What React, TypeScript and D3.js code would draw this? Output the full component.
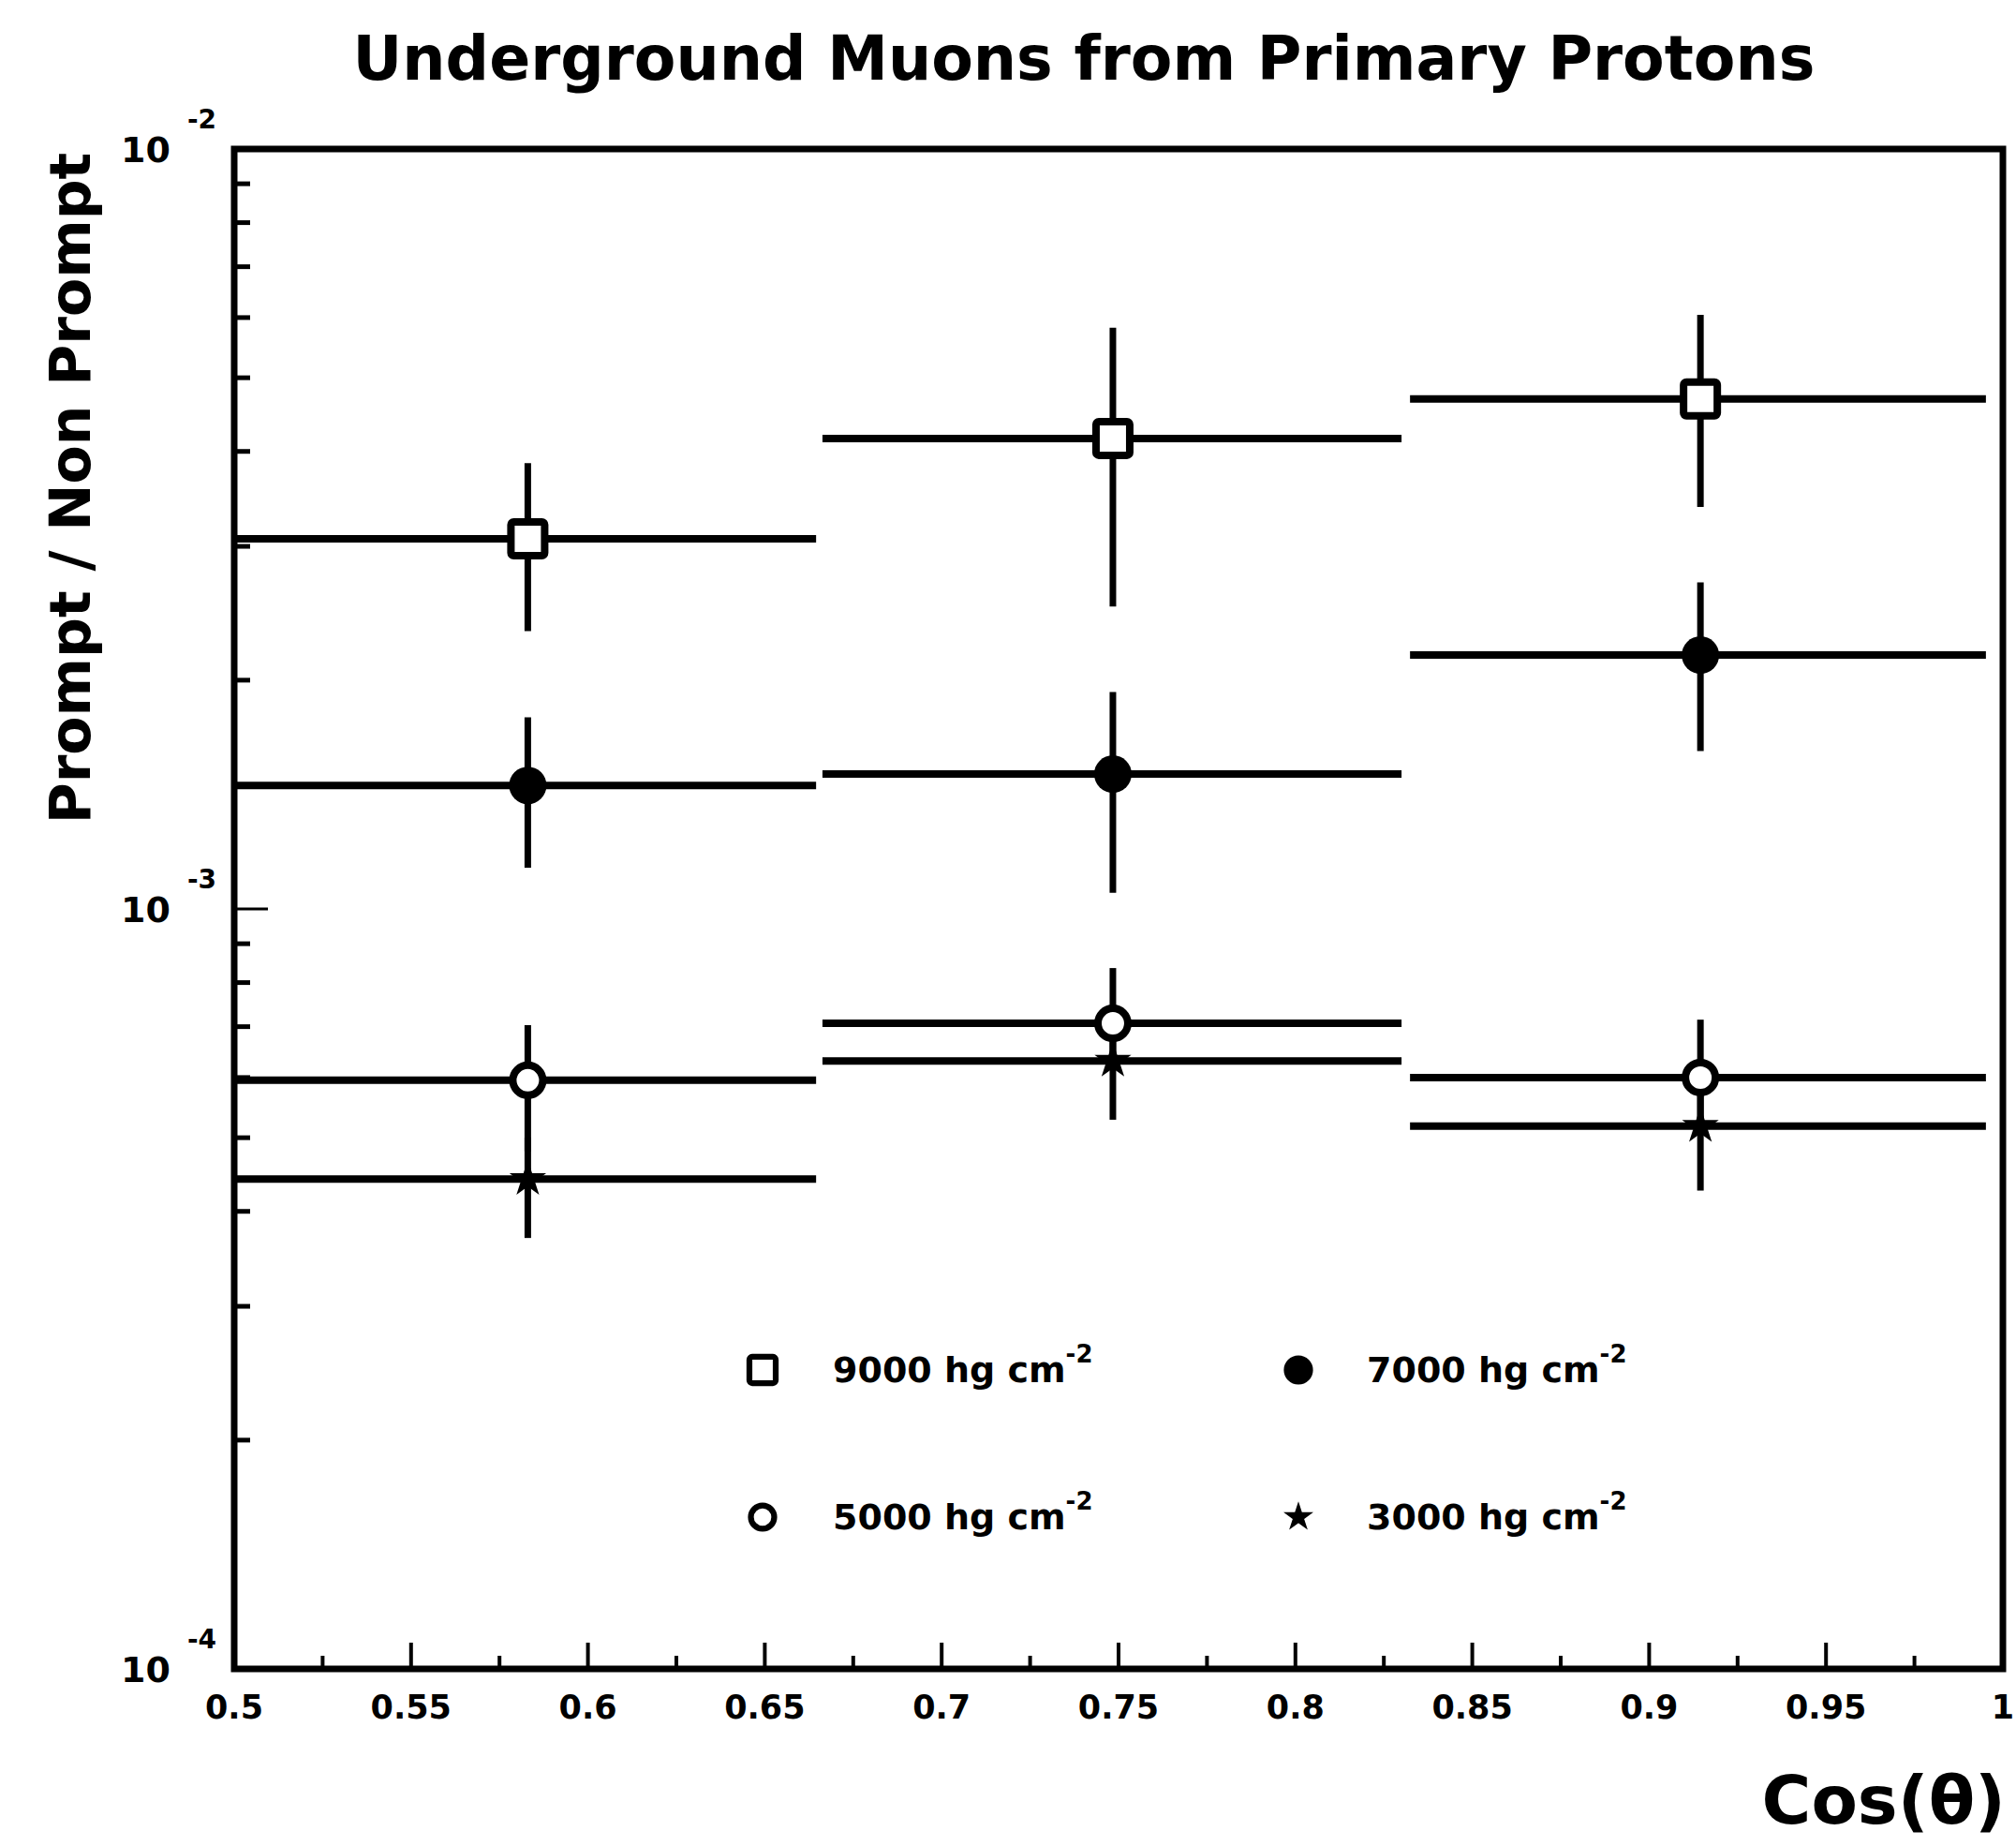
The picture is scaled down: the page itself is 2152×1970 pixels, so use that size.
import React from "react";
import * as d3 from "d3";

// Canvas
const W = 2152;
const H = 1970;
const FONT = "'DejaVu Sans', 'Liberation Sans', sans-serif";

// cos(theta) bins: horizontal extent of each bin bar and the point position
const binLow = [0.5, 0.6663, 0.8324];
const binHigh = [0.6645, 0.83, 0.9952];
const binCenters = [0.583, 0.7484, 0.9145];

// Prompt / Non-prompt ratio per depth: central value, lower and upper error limits
const ratio9000 = [3.07e-3, 4.16e-3, 4.69e-3];
const low9000 = [2.32e-3, 2.5e-3, 3.38e-3];
const high9000 = [3.86e-3, 5.82e-3, 6.05e-3];

const ratio7000 = [1.454e-3, 1.505e-3, 2.158e-3];
const low7000 = [1.133e-3, 1.05e-3, 1.614e-3];
const high7000 = [1.787e-3, 1.93e-3, 2.69e-3];

const ratio5000 = [5.95e-4, 7.07e-4, 6.0e-4];
const low5000 = [4.8e-4, 6.3e-4, 5.2e-4];
const high5000 = [7.03e-4, 8.36e-4, 7.15e-4];

const ratio3000 = [4.41e-4, 6.31e-4, 5.18e-4];
const low3000 = [3.69e-4, 5.28e-4, 4.26e-4];
const high3000 = [5.0e-4, 7.0e-4, 6.0e-4];

// Axis ticks
const xMajorTicks = [0.5, 0.55, 0.6, 0.65, 0.7, 0.75, 0.8, 0.85, 0.9, 0.95, 1.0];
const xTickLabels = ["0.5", "0.55", "0.6", "0.65", "0.7", "0.75", "0.8", "0.85", "0.9", "0.95", "1"];
const xMinorTicks = [0.525, 0.575, 0.625, 0.675, 0.725, 0.775, 0.825, 0.875, 0.925, 0.975];
const yDecades = [1e-4, 1e-3, 1e-2];
const yDecadeExponents = ["-4", "-3", "-2"];
const yMinorMultipliers = [2, 3, 4, 5, 6, 7, 8, 9];

type Marker = "openSquare" | "filledCircle" | "openCircle" | "star";

const series: { name: string; marker: Marker; values: number[]; low: number[]; high: number[] }[] = [
  { name: "9000", marker: "openSquare", values: ratio9000, low: low9000, high: high9000 },
  { name: "7000", marker: "filledCircle", values: ratio7000, low: low7000, high: high7000 },
  { name: "5000", marker: "openCircle", values: ratio5000, low: low5000, high: high5000 },
  { name: "3000", marker: "star", values: ratio3000, low: low3000, high: high3000 },
];

const legendRows = [
  { name: "9000", marker: "openSquare" as Marker, col: 0, row: 0 },
  { name: "7000", marker: "filledCircle" as Marker, col: 1, row: 0 },
  { name: "5000", marker: "openCircle" as Marker, col: 0, row: 1 },
  { name: "3000", marker: "star" as Marker, col: 1, row: 1 },
];

const PLOT = { left: 250, right: 2138, top: 159, bottom: 1781 };

const x = d3.scaleLinear().domain([0.5, 1.0]).range([PLOT.left, PLOT.right]);
const y = d3.scaleLog().domain([1e-4, 1e-2]).range([PLOT.bottom, PLOT.top]);

function MarkerShape({ kind, cx, cy, scale }: { kind: Marker; cx: number; cy: number; scale: number }) {
  if (kind === "openSquare") {
    const s = 36 * scale;
    return (
      <rect x={cx - s / 2} y={cy - s / 2} width={s} height={s} fill="#fff" stroke="#000" strokeWidth={8 * scale} rx={3} />
    );
  }
  if (kind === "filledCircle") {
    return <circle cx={cx} cy={cy} r={20 * scale} fill="#000" />;
  }
  if (kind === "openCircle") {
    return <circle cx={cx} cy={cy} r={16 * scale} fill="#fff" stroke="#000" strokeWidth={8 * scale} />;
  }
  const star = d3.symbol().type(d3.symbolStar).size(340 * scale * scale)();
  return <path d={star || ""} transform={`translate(${cx},${cy})`} fill="#000" stroke="#000" strokeWidth={2} />;
}

export default function App() {
  return (
    <svg
      width={W}
      height={H}
      viewBox={`0 0 ${W} ${H}`}
      style={{ position: "absolute", left: 0, top: 0, background: "#fff" }}
      fontFamily={FONT}
    >
      <rect x={0} y={0} width={W} height={H} fill="#fff" />

      {/* Title */}
      <text x={1157} y={85} textAnchor="middle" fontSize={65} fontWeight="bold">
        Underground Muons from Primary Protons
      </text>

      {/* Y axis title */}
      <text
        transform="translate(96,521) rotate(-90)"
        textAnchor="middle"
        fontSize={60}
        fontWeight="bold"
      >
        Prompt / Non Prompt
      </text>

      {/* X axis title */}
      <text x={2141} y={1946} textAnchor="end" fontSize={72} fontWeight="bold">
        Cos(θ)
      </text>

      {/* Frame */}
      <rect
        x={PLOT.left}
        y={PLOT.top}
        width={PLOT.right - PLOT.left}
        height={PLOT.bottom - PLOT.top}
        fill="none"
        stroke="#000"
        strokeWidth={7}
      />

      {/* Y minor ticks */}
      {yDecades.slice(0, 2).map((d) =>
        yMinorMultipliers.map((m) => (
          <line
            key={`ym-${d}-${m}`}
            x1={PLOT.left}
            x2={PLOT.left + 17}
            y1={y(d * m)}
            y2={y(d * m)}
            stroke="#000"
            strokeWidth={5}
          />
        ))
      )}
      {/* Y major tick */}
      <line x1={PLOT.left} x2={PLOT.left + 36} y1={y(1e-3)} y2={y(1e-3)} stroke="#000" strokeWidth={3} />

      {/* Y tick labels */}
      {yDecades.map((d, i) => (
        <g key={`yl-${d}`}>
          <text x={182} y={y(d) + 14} textAnchor="end" fontSize={38} fontWeight="bold">
            10
          </text>
          <text x={200} y={y(d) - 22} textAnchor="start" fontSize={28} fontWeight="bold">
            {yDecadeExponents[i]}
          </text>
        </g>
      ))}

      {/* X ticks */}
      {xMajorTicks.map((t) => (
        <line key={`xM-${t}`} x1={x(t)} x2={x(t)} y1={PLOT.bottom} y2={PLOT.bottom - 28} stroke="#000" strokeWidth={4} />
      ))}
      {xMinorTicks.map((t) => (
        <line key={`xm-${t}`} x1={x(t)} x2={x(t)} y1={PLOT.bottom} y2={PLOT.bottom - 14} stroke="#000" strokeWidth={4} />
      ))}
      {xMajorTicks.map((t, i) => (
        <text key={`xl-${t}`} x={x(t)} y={1834} textAnchor="middle" fontSize={35} fontWeight="bold">
          {xTickLabels[i]}
        </text>
      ))}

      {/* Data: horizontal bin bars, vertical error bars, markers */}
      {series.map((s) => (
        <g key={`s-${s.name}`}>
          {s.values.map((v, i) => (
            <line
              key={`h-${i}`}
              x1={x(binLow[i])}
              x2={x(binHigh[i])}
              y1={y(v)}
              y2={y(v)}
              stroke="#000"
              strokeWidth={8}
            />
          ))}
          {s.values.map((v, i) => (
            <line
              key={`v-${i}`}
              x1={x(binCenters[i])}
              x2={x(binCenters[i])}
              y1={y(s.high[i])}
              y2={y(s.low[i])}
              stroke="#000"
              strokeWidth={7}
            />
          ))}
        </g>
      ))}
      {series.map((s) => (
        <g key={`m-${s.name}`}>
          {s.values.map((v, i) => (
            <MarkerShape key={`mk-${i}`} kind={s.marker} cx={x(binCenters[i])} cy={y(v)} scale={1} />
          ))}
        </g>
      ))}

      {/* Legend */}
      {legendRows.map((r) => {
        const mx = r.col === 0 ? 814 : 1386;
        const tx = r.col === 0 ? 889 : 1459;
        const my = r.row === 0 ? 1462 : 1619;
        return (
          <g key={`lg-${r.name}`}>
            <MarkerShape kind={r.marker} cx={mx} cy={my} scale={0.78} />
            <text x={tx} y={my + 13} fontSize={38} fontWeight="bold">
              {`${r.name} hg cm`}
              <tspan fontSize={26} dy={-21}>
                -2
              </tspan>
            </text>
          </g>
        );
      })}
    </svg>
  );
}
